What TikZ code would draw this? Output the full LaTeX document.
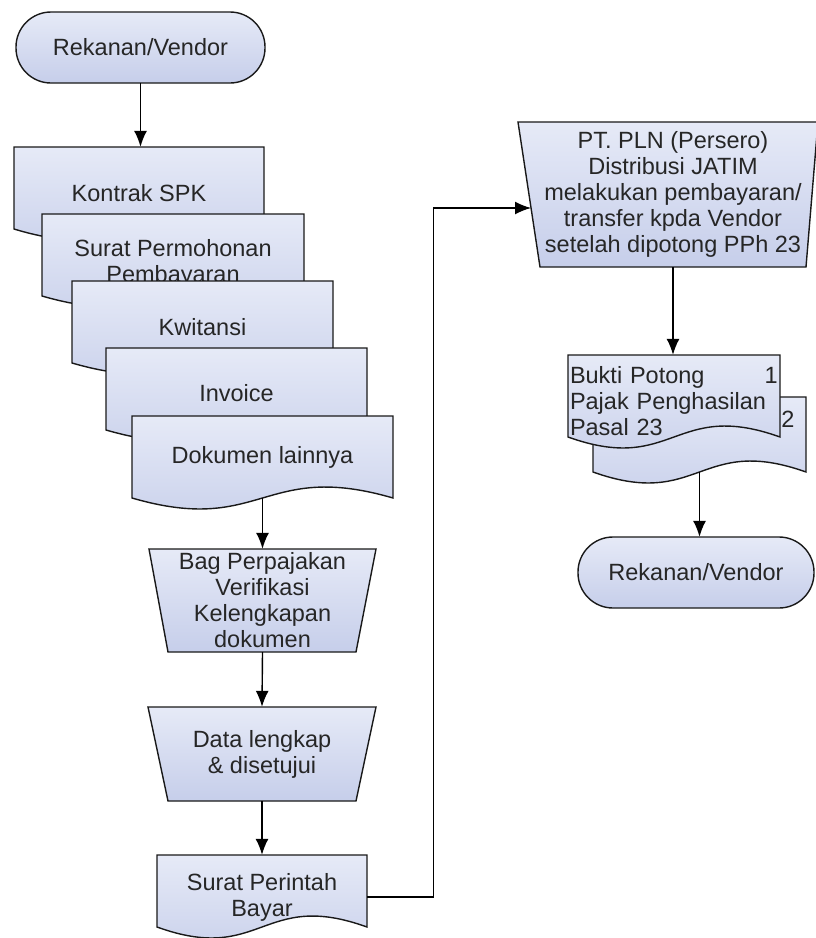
\documentclass[tikz,border=0pt]{standalone}
\usepackage{fontspec}
\setmainfont{Liberation Sans}
\usetikzlibrary{arrows.meta,positioning,calc}
\definecolor{boxtop}{RGB}{230,234,247}
\definecolor{boxbot}{RGB}{198,206,234}
\tikzset{
	flowbox/.style={draw=black!90, line width=1.4pt, top color=boxtop, bottom color=boxbot},
	txt/.style={font=\fontsize{23.5}{26}\selectfont, text=black!85, align=center, inner sep=0pt},
	link/.style={line width=1.4pt, ->}
}

\begin{document}
\begin{tikzpicture}[x=1pt,y=-1pt,>={Latex[length=16pt,width=13pt]},
	declare function={k=38;}]
	\useasboundingbox (0,0) rectangle (816,938);
	% left column
	\draw[flowbox, rounded corners=35pt] (16,12) rectangle (265,83);
	\node[txt, minimum width=249pt, minimum height=71pt] (start) at (140.5,47.5) {Rekanan/Vendor};
	\draw[flowbox] (14,147) -- (264,147) -- (264,229) .. controls (139,229-k) and (139,229+k) .. (14,229) -- cycle;
	\node[txt, minimum width=250pt, minimum height=92pt] (kontrak) at (139,193) {Kontrak SPK};
	\draw[flowbox] (42,214) -- (304,214) -- (304,296) .. controls (173,296-k) and (173,296+k) .. (42,296) -- cycle;
	\node[txt] (permohonan) at (173,263) {Surat Permohonan\\Pembayaran};
	\draw[flowbox] (72,281) -- (333,281) -- (333,363) .. controls (202.5,363-k) and (202.5,363+k) .. (72,363) -- cycle;
	\node[txt] (kwitansi) at (202.5,327) {Kwitansi};
	\draw[flowbox] (106,348) -- (367,348) -- (367,430) .. controls (236.5,430-k) and (236.5,430+k) .. (106,430) -- cycle;
	\node[txt] (invoice) at (236.5,393) {Invoice};
	\draw[flowbox] (132,416) -- (393,416) -- (393,498) .. controls (262.5,498-k) and (262.5,498+k) .. (132,498) -- cycle;
	\node[txt, minimum width=261pt, minimum height=82pt] (dokumen) at (262.5,457) {Dokumen lainnya};
	\draw[flowbox] (149,549) -- (376,549) -- (356,652) -- (168,652) -- cycle;
	\node[txt, minimum width=227pt, minimum height=103pt] (verif) at (262.5,600.5) {Bag Perpajakan\\Verifikasi\\Kelengkapan\\dokumen};
	\draw[flowbox] (148,707) -- (376,707) -- (356,801) -- (168,801) -- cycle;
	\node[txt, minimum width=228pt, minimum height=94pt] (lengkap) at (262,754) {Data lengkap\\\& disetujui};
	\draw[flowbox] (157,855) -- (367,855) -- (367,927) .. controls (262,927-k) and (262,927+k) .. (157,927) -- cycle;
	\node[txt, minimum width=210pt, minimum height=84pt] (spb) at (262,897) {Surat Perintah\\Bayar};
	% right column
	\draw[flowbox] (518,122) -- (818,122) -- (806,267) -- (540,267) -- cycle;
	\node[txt, minimum width=266pt, minimum height=145pt] (pln) at (673,194.5) {PT. PLN (Persero)\\Distribusi JATIM\\melakukan pembayaran/\\transfer kpda Vendor\\setelah dipotong PPh 23};
	\coordinate (pln-in) at (531,208);
	\draw[flowbox] (593,397) -- (806,397) -- (806,472) .. controls (699.5,472-k) and (699.5,472+k) .. (593,472) -- cycle;
	\coordinate (bukti2-s) at (699.5,472);
	\node[txt] (nr2) at (788,419) {2};
	\draw[flowbox] (568,355) -- (780,355) -- (780,437) .. controls (674,437-k) and (674,437+k) .. (568,437) -- cycle;
	\node[txt, text width=208pt, align=left, minimum height=92pt] (bukti) at (674,401) {Bukti Potong\\Pajak Penghasilan\\Pasal 23};
	\node[txt, anchor=east] (nr1) at (778,375) {1};
	\draw[flowbox, rounded corners=35pt] (578,537) rectangle (814,608);
	\node[txt, minimum width=236pt, minimum height=71pt] (end) at (696,572.5) {Rekanan/Vendor};
	% connectors
	\draw[link] (start.south) -- (start.south |- kontrak.north);
	\draw[link] (dokumen.south) -- (verif.north);
	\draw[link] (verif.south) -- (lengkap.north);
	\draw[link] (lengkap.south) -- (spb.north);
	\draw[link] (spb.east) -- ++(66,0) |- (pln-in);
	\draw[link] (pln.south) -- (pln.south |- bukti.north);
	\draw[link] (bukti2-s) -- (bukti2-s |- end.north);
\end{tikzpicture}
\end{document}
